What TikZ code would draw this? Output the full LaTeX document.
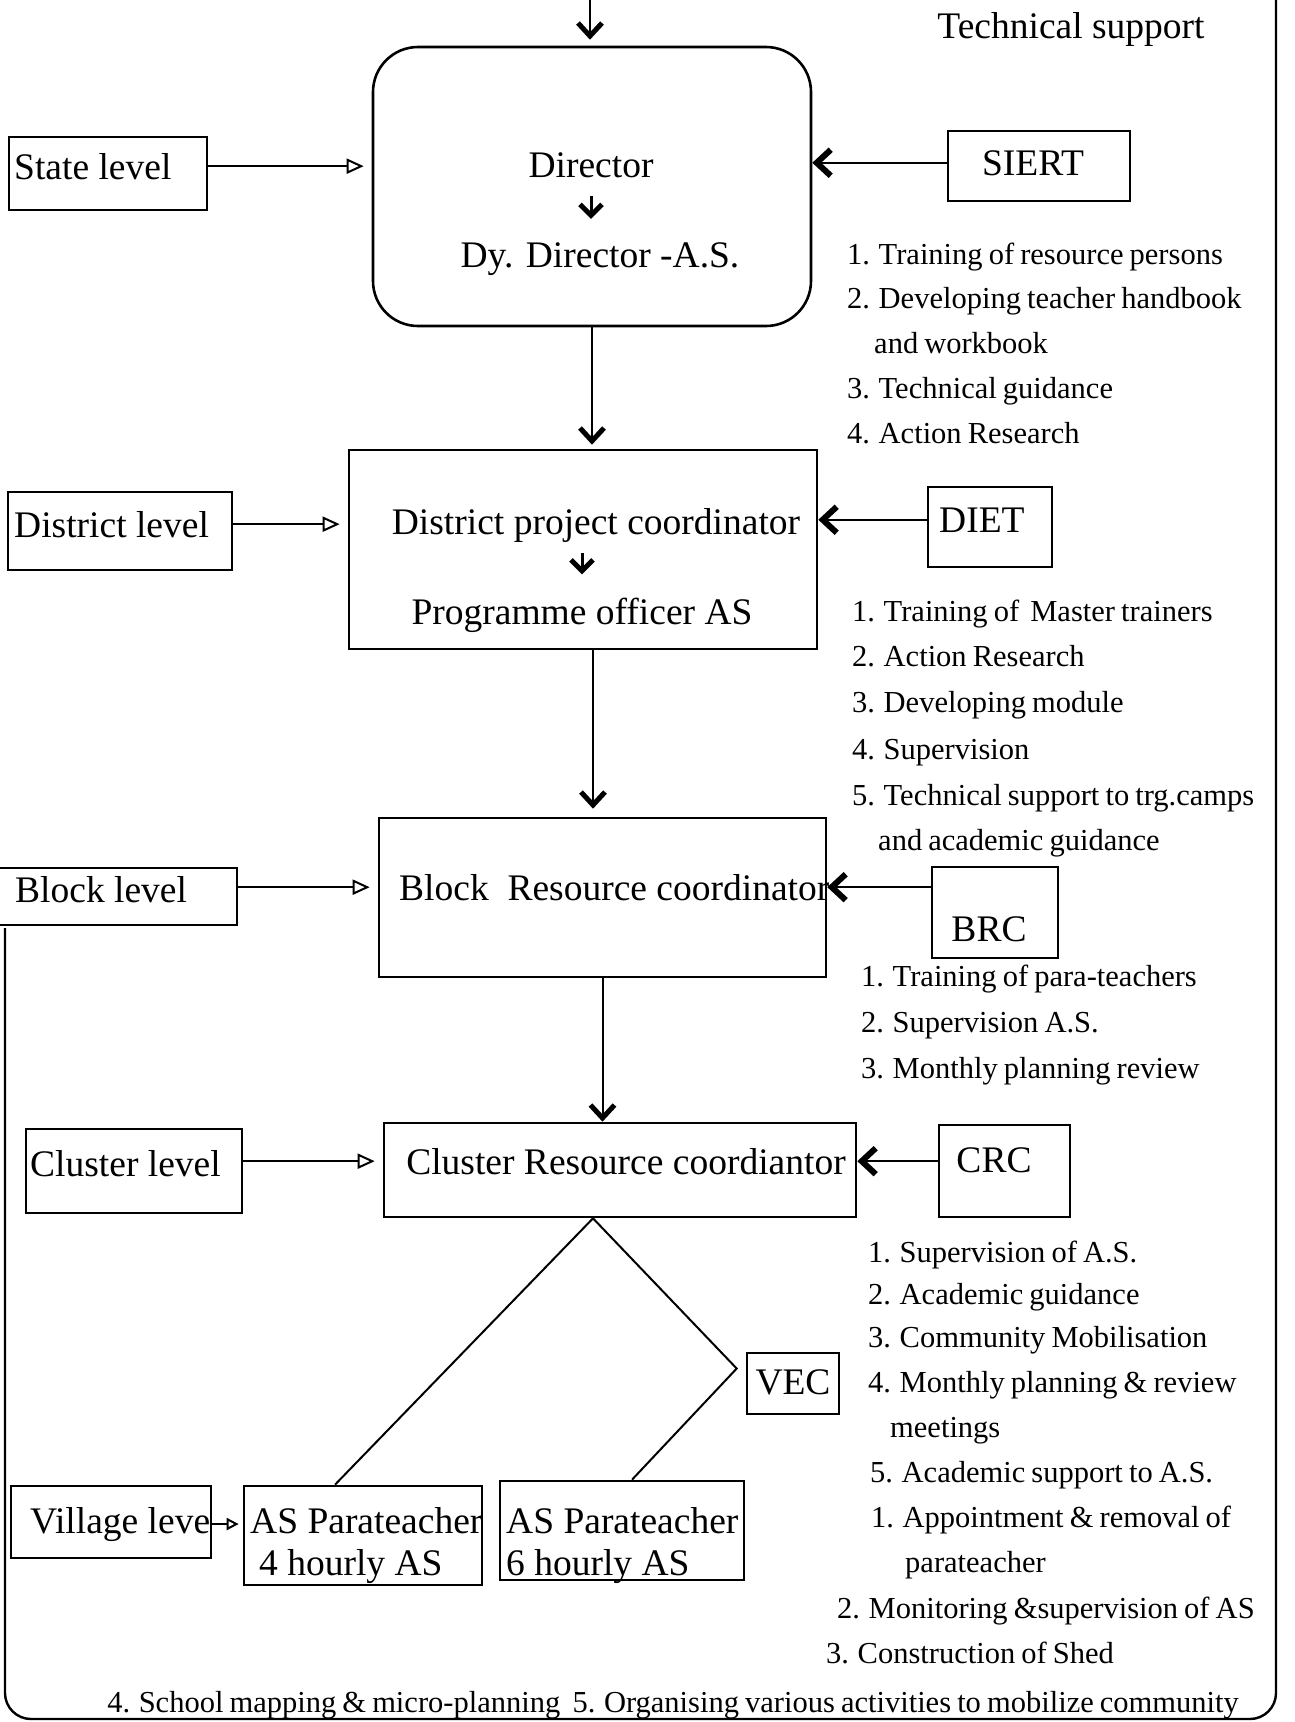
\documentclass[tikz,border=0pt]{standalone}
\usepackage{fontspec}
\setmainfont{Liberation Serif}
\usetikzlibrary{arrows.meta,calc}
\newcommand\mainsize{\fontsize{37.5}{40}\selectfont}
\newcommand\listsize{\fontsize{30.5}{34}\selectfont\spaceskip=0.2em plus 0.05em minus 0.05em}

\begin{document}
\begin{tikzpicture}[x=1pt,y=-1pt,
  box/.style={draw, line width=2.6pt, inner sep=0pt},
  maintext/.style={inner sep=0pt, font=\mainsize},
  listtext/.style={inner sep=0pt, anchor=base west, font=\listsize},
  link/.style={line width=2pt},
  flowdown/.style={link, -{Straight Barb[length=13pt,width=24pt,line width=5pt]}},
  inarrow/.style={line width=3pt, -{Straight Barb[length=11pt,width=22pt,line width=5pt]}},
  support/.style={line width=2.4pt, -{Straight Barb[length=14pt,width=26pt,line width=6pt]}},
  levelarrow/.style={link, -{Triangle[open,length=17pt,width=15pt,line width=2pt]}, shorten >=8pt},
]
\fill[white] (0,0) rectangle (1294,1722);
\useasboundingbox (0,0) rectangle (1294,1722);

% outer frame
\draw[line width=2.4pt, rounded corners=26pt] (1276,-10) -- (1276,1719) -- (5,1719) -- (5,928);

\node[maintext, anchor=base] (techsup) at (1071,38) {Technical support};

% ---------- state ----------
\coordinate (topin) at (590,0);
\node[box, rounded corners=45pt, minimum width=438pt, minimum height=279pt] (dirbox) at (592,186.5) {};
\draw[flowdown, shorten >=6pt] (topin) -- (topin |- dirbox.north);
\node[maintext, anchor=base] (dirtxt) at (591,177) {Director};
\node[maintext, anchor=base] (dydirtxt) at (600,267) {Dy. Director -A.S.};
\draw[inarrow, shorten <=18pt, shorten >=23pt] (dirtxt.south) -- (dirtxt.south |- dydirtxt.north);

\node[box, minimum width=198pt, minimum height=73pt] (statebox) at (108,173.5) {};
\node[maintext, anchor=base west] (statetxt) at (14,179) {State level};
\draw[levelarrow] (statebox.east |- statetxt.center) -- (dirbox.west |- statetxt.center);

\node[box, minimum width=182pt, minimum height=70pt] (siert) at (1039,166) {};
\node[maintext, anchor=base] (sierttxt) at (1033,175) {SIERT};
\draw[support] (siert.west |- sierttxt.center) -- (dirbox.east |- sierttxt.center);

\node[listtext] (s1) at (847,264) {1. Training of resource persons};
\node[listtext] (s2) at (847,308) {2. Developing teacher handbook};
\node[listtext] (s2b) at (874,353) {and workbook};
\node[listtext] (s3) at (847,398) {3. Technical guidance};
\node[listtext] (s4) at (847,443) {4. Action Research};

% ---------- district ----------
\node[box, minimum width=468pt, minimum height=199pt] (district) at (583,549.5) {};
\draw[flowdown, shorten >=4pt] (dirbox.south) -- (dirbox.south |- district.north);
\node[maintext, anchor=base] (dpctxt) at (596,534) {District project coordinator};
\node[maintext, anchor=base] (potxt) at (582,624) {Programme officer AS};
\draw[inarrow, shorten <=11pt, shorten >=23pt] (potxt.north |- dpctxt.south) -- (potxt.north);

\node[box, minimum width=224pt, minimum height=78pt] (distlvl) at (120,531) {};
\node[maintext, anchor=base west] (distlvltxt) at (14,537) {District level};
\draw[levelarrow] (distlvl.east |- distlvltxt.center) -- (district.west |- distlvltxt.center);

\node[box, minimum width=124pt, minimum height=80pt] (diet) at (990,527) {};
\node[maintext, anchor=base west] (diettxt) at (939,532) {DIET};
\draw[support] (diet.west |- diettxt.center) -- (district.east |- diettxt.center);

\node[listtext] (d1) at (852,621) {1. Training of\, Master trainers};
\node[listtext] (d2) at (852,666) {2. Action Research};
\node[listtext] (d3) at (852,712) {3. Developing module};
\node[listtext] (d4) at (852,759) {4. Supervision};
\node[listtext] (d5) at (852,805) {5. Technical support to trg.camps};
\node[listtext] (d5b) at (878,850) {and academic guidance};

% ---------- block ----------
\node[box, minimum width=447pt, minimum height=159pt] (block) at (602.5,897.5) {};
\draw[flowdown, shorten >=8pt] ([xshift=10pt]district.south) -- ([xshift=10pt]district.south |- block.north);
\node[maintext, anchor=base west] (blocktxt) at (399,900) {Block\ \ Resource coordinator};

\node[box, minimum width=240pt, minimum height=57pt] (blocklvl) at (117,896.5) {};
\node[maintext, anchor=base west] (blocklvltxt) at (15,902) {Block level};
\draw[levelarrow] (blocklvl.east |- blocktxt.center) -- (block.west |- blocktxt.center);

\node[box, minimum width=126pt, minimum height=91pt] (brc) at (995,912.5) {};
\node[maintext, anchor=base] (brctxt) at (989,941) {BRC};
\draw[support] (brc.west |- blocktxt.center) -- (block.east |- blocktxt.center);

\node[listtext] (b1) at (861,986) {1. Training of para-teachers};
\node[listtext] (b2) at (861,1032) {2. Supervision A.S.};
\node[listtext] (b3) at (861,1078) {3. Monthly planning review};

% ---------- cluster ----------
\node[box, minimum width=472pt, minimum height=94pt] (cluster) at (620,1170) {};
\draw[flowdown] (block.south) -- (block.south |- cluster.north);
\node[maintext, anchor=base] (clustertxt) at (626,1174) {Cluster Resource coordiantor};

\node[box, minimum width=216pt, minimum height=84pt] (clusterlvl) at (134,1171) {};
\node[maintext, anchor=base west] (clusterlvltxt) at (30,1176) {Cluster level};
\draw[levelarrow] (clusterlvl.east |- clustertxt.center) -- (cluster.west |- clustertxt.center);

\node[box, minimum width=131pt, minimum height=92pt] (crc) at (1004.5,1171) {};
\node[maintext, anchor=base] (crctxt) at (994,1172) {CRC};
\draw[support] (crc.west |- clustertxt.center) -- (cluster.east |- clustertxt.center);

\node[listtext] (c1) at (868,1262) {1. Supervision of A.S.};
\node[listtext] (c2) at (868,1304) {2. Academic guidance};
\node[listtext] (c3) at (868,1347) {3. Community Mobilisation};
\node[listtext] (c4) at (868,1392) {4. Monthly planning \& review};
\node[listtext] (c4b) at (890,1437) {meetings};
\node[listtext] (c5) at (870,1482) {5. Academic support to A.S.};

% ---------- village ----------
\node[box, minimum width=92pt, minimum height=61pt] (vec) at (793,1383.5) {};
\node[maintext, anchor=base] (vectxt) at (793,1394) {VEC};

\node[box, minimum width=200pt, minimum height=72pt] (village) at (111,1522) {};
\node[maintext, anchor=base west] (villagetxt) at (30,1533) {Village leve};

\node[box, minimum width=238pt, minimum height=99pt] (as1) at (363,1535.5) {};
\node[maintext, anchor=base west] (as1a) at (250,1533) {AS Parateacher};
\node[maintext, anchor=base west] (as1b) at (259,1575) {4 hourly AS};

\node[box, minimum width=244pt, minimum height=99pt] (as2) at (622,1530.5) {};
\node[maintext, anchor=base west] (as2a) at (506,1533) {AS Parateacher};
\node[maintext, anchor=base west] (as2b) at (506,1575) {6 hourly AS};

\draw[link, -{Triangle[open,length=12pt,width=12pt,line width=2pt]}, shorten >=4pt] (village.east |- villagetxt.center) -- (as1.west |- villagetxt.center);

\coordinate (apex) at ([xshift=-27pt]cluster.south);
\coordinate (vecjoin) at ([xshift=-9pt,yshift=15pt]vec.west);
\draw[link] (apex) -- ([xshift=-28pt]as1.north);
\draw[link] (apex) -- (vecjoin) -- ([xshift=10pt]as2.north);

\node[listtext] (v1) at (871,1527) {1. Appointment \& removal of};
\node[listtext] (v1b) at (905,1572) {parateacher};
\node[listtext] (v2) at (837,1618) {2. Monitoring \&supervision of AS};
\node[listtext] (v3) at (826,1663) {3. Construction of Shed};
\node[listtext, anchor=base] (v45) at (673,1712) {4. School mapping \& micro-planning\ \ 5. Organising various activities to mobilize community};

\end{tikzpicture}
\end{document}
